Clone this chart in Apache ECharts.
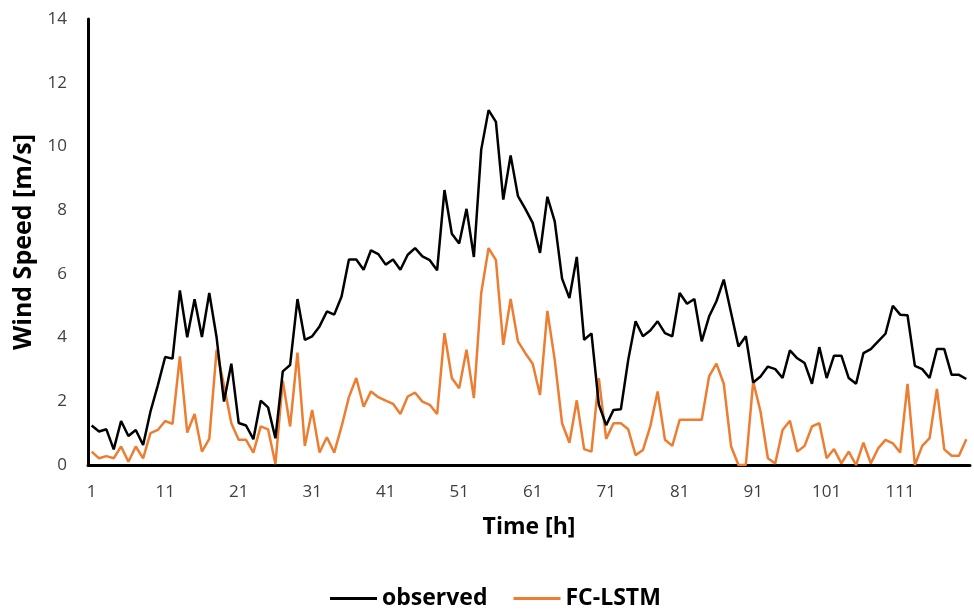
<!DOCTYPE html>
<html>
<head>
<meta charset="utf-8">
<script src="https://cdn.jsdelivr.net/npm/echarts@6/dist/echarts.min.js"></script>
<style>
  html, body { margin: 0; padding: 0; background: #ffffff; }
  #chart { width: 974px; height: 615px; }
</style>
</head>
<body>
<div id="chart"></div>
<script>
// Hourly wind speed: observed values and FC-LSTM forecast (m/s)
const observed = [
  1.24, 1.05, 1.12, 0.49, 1.38, 0.91, 1.10, 0.63, 1.68, 2.50,
  3.39, 3.34, 5.48, 4.01, 5.20, 4.02, 5.40, 4.00, 1.99, 3.18,
  1.32, 1.24, 0.81, 2.02, 1.81, 0.84, 2.94, 3.14, 5.21, 3.93,
  4.04, 4.35, 4.82, 4.72, 5.29, 6.45, 6.45, 6.13, 6.74, 6.62,
  6.29, 6.45, 6.13, 6.60, 6.81, 6.55, 6.43, 6.11, 8.63, 7.26,
  6.95, 8.04, 6.53, 9.90, 11.14, 10.77, 8.33, 9.72, 8.44, 8.04,
  7.60, 6.66, 8.42, 7.65, 5.85, 5.24, 6.53, 3.93, 4.13, 1.90,
  1.25, 1.73, 1.75, 3.30, 4.51, 4.04, 4.22, 4.51, 4.14, 4.04,
  5.40, 5.06, 5.21, 3.88, 4.66, 5.14, 5.82, 4.77, 3.72, 4.04,
  2.59, 2.78, 3.09, 3.01, 2.73, 3.60, 3.35, 3.20, 2.55, 3.70,
  2.73, 3.43, 3.43, 2.73, 2.55, 3.51, 3.64, 3.88, 4.12, 5.00,
  4.72, 4.70, 3.11, 3.01, 2.73, 3.64, 3.64, 2.83, 2.83, 2.70
];

const fcLstm = [
  0.42, 0.21, 0.28, 0.21, 0.58, 0.10, 0.58, 0.21, 1.00, 1.10,
  1.38, 1.29, 3.41, 1.02, 1.60, 0.42, 0.82, 3.62, 2.50, 1.31,
  0.79, 0.79, 0.39, 1.21, 1.12, 0.03, 2.65, 1.21, 3.53, 0.60,
  1.73, 0.39, 0.87, 0.39, 1.21, 2.13, 2.73, 1.83, 2.31, 2.13,
  2.02, 1.92, 1.60, 2.15, 2.27, 1.99, 1.89, 1.60, 4.14, 2.73,
  2.41, 3.62, 2.10, 5.40, 6.81, 6.43, 3.77, 5.21, 3.88, 3.51,
  3.18, 2.20, 4.84, 3.30, 1.31, 0.70, 2.03, 0.50, 0.42, 2.73,
  0.82, 1.31, 1.31, 1.12, 0.31, 0.47, 1.21, 2.31, 0.79, 0.60,
  1.42, 1.42, 1.42, 1.42, 2.78, 3.18, 2.55, 0.58, 0.00, 0.00,
  2.62, 1.68, 0.21, 0.05, 1.10, 1.39, 0.42, 0.60, 1.21, 1.31,
  0.21, 0.50, 0.05, 0.42, 0.00, 0.70, 0.05, 0.52, 0.79, 0.68,
  0.39, 2.55, 0.00, 0.60, 0.84, 2.39, 0.49, 0.29, 0.29, 0.81
];

// Hour labels 1..120
const hours = observed.map((_, i) => String(i + 1));

const seriesNames = ['observed', 'FC-LSTM'];
const seriesColors = ['#000000', '#ED7D31'];

const FONT = '"Open Sans", "DejaVu Sans", sans-serif';

const chart = echarts.init(document.getElementById('chart'), null, { renderer: 'canvas' });

chart.setOption({
  animation: false,
  backgroundColor: '#ffffff',
  grid: { left: 88, right: 4, top: 19, bottom: 150, containLabel: false },
  legend: {
    bottom: 0,
    left: 325,
    icon: 'rect',
    itemWidth: 47,
    itemHeight: 3,
    itemGap: 26,
    textStyle: { fontFamily: FONT, fontSize: 23, fontWeight: 'bold', color: '#000000', padding: [0, 0, 0, 0] },
    data: seriesNames
  },
  xAxis: {
    type: 'category',
    data: hours,
    boundaryGap: true,
    name: 'Time [h]',
    nameLocation: 'middle',
    nameGap: 51,
    nameTextStyle: { fontFamily: FONT, fontSize: 23, fontWeight: 'bold', color: '#000000' },
    axisLine: { lineStyle: { color: '#000000', width: 3 } },
    axisTick: { show: false },
    axisLabel: { interval: 9, margin: 19, fontFamily: FONT, fontSize: 17, color: '#404040' },
    splitLine: { show: false }
  },
  yAxis: {
    type: 'value',
    min: 0,
    max: 14,
    interval: 2,
    name: 'Wind Speed [m/s]',
    nameLocation: 'middle',
    nameGap: 52,
    nameTextStyle: { fontFamily: FONT, fontSize: 25, fontWeight: 'bold', color: '#000000' },
    axisLine: { show: true, lineStyle: { color: '#000000', width: 3 } },
    axisTick: { show: false },
    axisLabel: { margin: 21, fontFamily: FONT, fontSize: 17, color: '#404040' },
    splitLine: { show: false }
  },
  series: seriesNames.map((name, k) => ({
    name: name,
    type: 'line',
    data: k === 0 ? observed : fcLstm,
    symbol: 'none',
    color: seriesColors[k],
    lineStyle: { width: 2.5, color: seriesColors[k] },
    z: k === 0 ? 3 : 2
  }))
});
</script>
</body>
</html>
